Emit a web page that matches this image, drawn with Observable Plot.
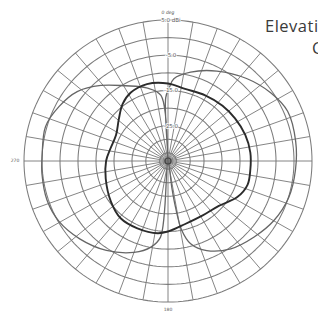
<!DOCTYPE html>
<html><head><meta charset="utf-8">
<script src="https://cdn.jsdelivr.net/npm/d3@7"></script>
<script src="https://cdn.jsdelivr.net/npm/@observablehq/plot@0.6"></script>
<style>
html,body{margin:0;padding:0;background:#fff;overflow:hidden;width:318px;height:314px}
#wrap{position:relative;width:318px;height:314px}
.title{position:absolute;font-family:"Open Sans",sans-serif;font-size:16.5px;letter-spacing:0.5px;line-height:22px;color:#3a3a3a;white-space:nowrap}
</style></head><body><div id="wrap"></div>
<script>
// Gain patterns (angle in degrees clockwise from top, gain in dB)
const darkAngles = [0,13,29,44,57,71,84,96,107,118,132,148,165,180,188,204,219,234,254,270,282,297,311,322,332,345];
const darkGain   = [-13,-14,-13.7,-13.2,-12.8,-12.3,-12,-12,-11.9,-13.2,-16,-16.8,-16.5,-15,-14.3,-14.1,-14.1,-15.4,-17,-17.8,-18.6,-18.8,-16.9,-14.5,-13,-12.4];
const lightAngles = [1,4,14,28,43,56,67,81,94,107,120,132,145,157,165,169,171,172,174,185.5,191,200,214,228,240.5,251.5,264,272,286,297,308,319,331,344,354,356,358];
const lightGain   = [-14.2,-11.6,-9,-6.1,-3,-0.5,1.1,0.9,0.5,0.1,-1.1,-2.8,-4.6,-7.4,-10.7,-15,-21.8,-28,-40,-13.3,-10.1,-7.4,-4.4,-2,-0.2,0.4,0.2,0,0.4,-1,-3,-6.6,-10.6,-13.4,-16.3,-40,-17];
const ringValues = [5,0,-5,-10,-15,-20,-25,-30,-35];
const spokeAngles = d3.range(0, 360, 10);
const ringLabelValues = [5,-5,-15,-25];
const ringLabelTexts = ["5.0 dBi","-5.0","-15.0","-25.0"];
const dirLabels = ["0 deg","180","270"];
const titleLines = ["Elevation Pattern","Cut"];

const rad = d3.scaleLinear().domain([-38,-25,5]).range([0,0.25,1]).clamp(true);
const polar = (a, g) => { const t = a*Math.PI/180, r = rad(g); return {x: r*Math.sin(t), y: r*Math.cos(t)}; };

const dark = darkAngles.map((a,i) => polar(a, darkGain[i]));
const light = lightAngles.map((a,i) => polar(a, lightGain[i]));
const rings = ringValues.flatMap(v => d3.range(0, 361, 2).map(a => ({ring: v, ...polar(a, v)})));

const plot = Plot.plot({
  width: 318, height: 314,
  marginLeft: 23.5, marginRight: 6.5, marginTop: 19.5, marginBottom: 12.5,
  x: {domain: [-1, 1], axis: null},
  y: {domain: [-1, 1], axis: null},
  style: {background: "white", overflow: "visible"},
  marks: [
    Plot.line(rings, {x: "x", y: "y", z: "ring", stroke: "#7c7c7c", strokeWidth: 1.05}),
    Plot.link(spokeAngles, {x1: () => 0, y1: () => 0, x2: a => polar(a, 5).x, y2: a => polar(a, 5).y, stroke: "#777", strokeWidth: 0.9}),
    Plot.line(light, {x: "x", y: "y", curve: "catmull-rom-closed", stroke: "#666", strokeWidth: 1.3}),
    Plot.line(dark, {x: "x", y: "y", curve: "catmull-rom-closed", stroke: "#2b2b2b", strokeWidth: 1.9}),
    Plot.dot([0], {x: () => 0, y: () => 0, r: 3, stroke: "#444", strokeWidth: 1.2}),
    Plot.text(ringLabelValues, {x: () => 0, y: v => rad(v), text: (v, i) => ringLabelTexts[i], dx: 3, fontSize: 5.5, fill: "#555", stroke: "white", strokeWidth: 1.5, fontFamily: "DejaVu Sans"}),
    Plot.text([dirLabels[0]], {x: () => 0, y: () => rad(5), text: d => d, dy: -7, fontSize: 4.5, fontStyle: "italic", fill: "#555", fontFamily: "DejaVu Sans"}),
    Plot.text([dirLabels[1]], {x: () => 0, y: () => -rad(5), text: d => d, dy: 8, fontSize: 4.5, fill: "#555", fontFamily: "DejaVu Sans"}),
    Plot.text([dirLabels[2]], {x: () => -rad(5), y: () => 0, text: d => d, dx: -9, fontSize: 4.5, fill: "#555", fontFamily: "DejaVu Sans"})
  ]
});
const wrap = document.getElementById("wrap");
wrap.appendChild(plot);
[[265, 14.5], [312, 36.5]].forEach(([l, t], i) => {
  const d = document.createElement("div");
  d.className = "title"; d.style.left = l + "px"; d.style.top = t + "px";
  d.textContent = titleLines[i];
  wrap.appendChild(d);
});
</script></body></html>
